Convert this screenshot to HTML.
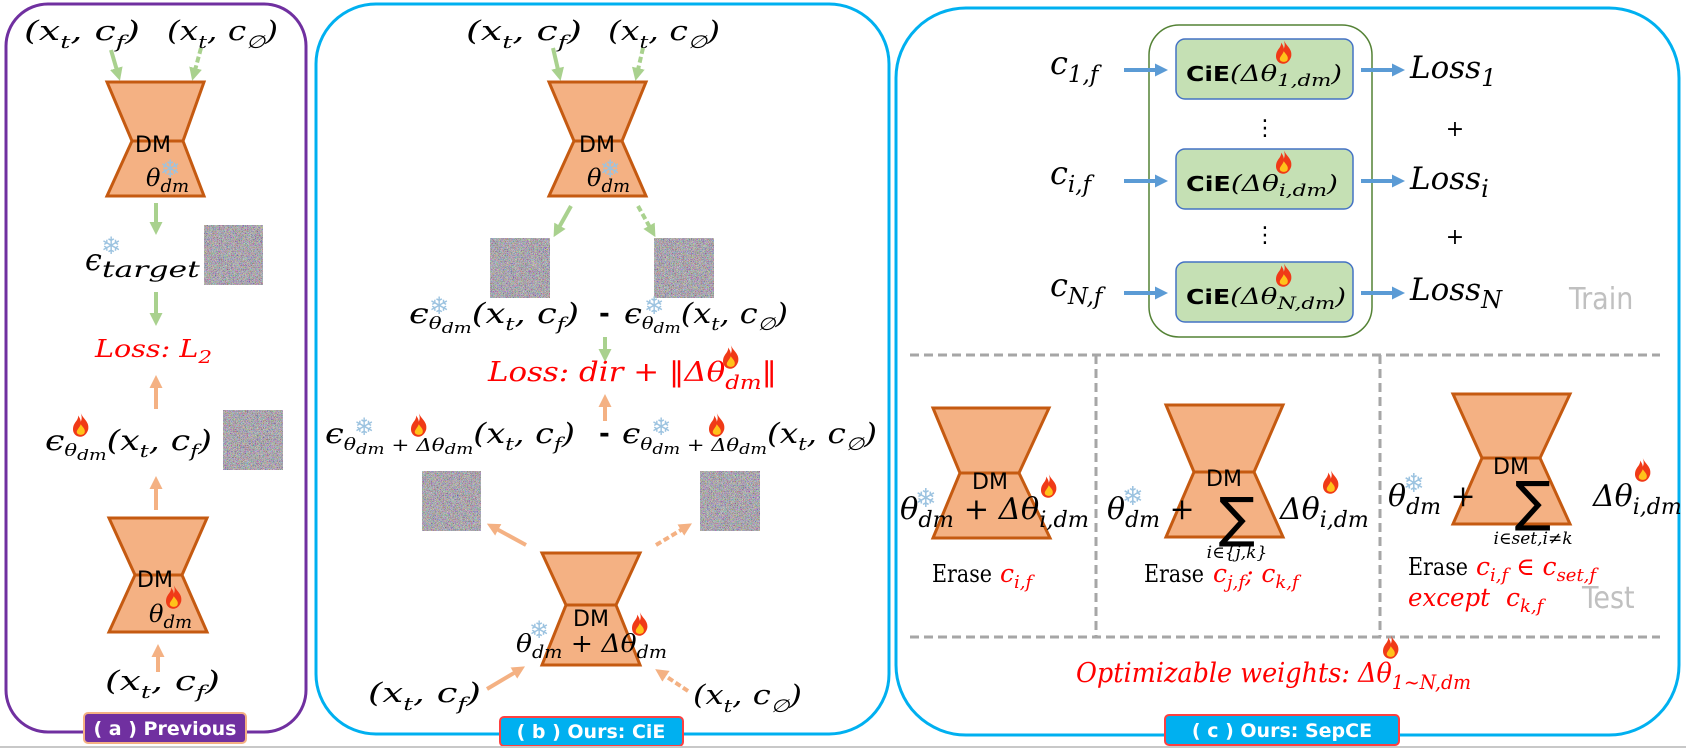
<!DOCTYPE html>
<html><head><meta charset="utf-8"><style>
html,body{margin:0;padding:0;background:#fff;}
svg{display:block;}
.m{font-family:"DejaVu Serif","Liberation Serif",serif;font-style:italic;fill:#000;}
.s{font-size:18px;}
.red{fill:#ff0000;}
.m.red{fill:#ff0000;}
.dm{font-family:"DejaVu Sans","Liberation Sans",sans-serif;font-size:22px;fill:#000;}
.lab{font-family:"DejaVu Sans","Liberation Sans",sans-serif;font-weight:bold;font-size:19px;fill:#fff;}
.ser{font-family:"DejaVu Serif","Liberation Serif",serif;}
.snow{font-family:"DejaVu Sans",sans-serif;fill:#9cc3e0;font-style:normal;}
</style></head><body>
<svg width="1686" height="749" viewBox="0 0 1686 749" xmlns="http://www.w3.org/2000/svg">
<defs>
<filter id="nz" x="0" y="0" width="100%" height="100%">
<feTurbulence type="fractalNoise" baseFrequency="2.5" numOctaves="1" seed="3"/>
<feColorMatrix type="matrix" values="1.7 0 0 0 -0.43  0 1.7 0 0 -0.45  0 0 1.7 0 -0.41  0 0 0 0 1"/>
</filter>
<g id="fire"><g transform="scale(1.25)"><path d="M7 0 C9 5 14 7 13 13 C12 17 9 19 7 19 C3 19 0 16 1 11 C2 7 5 6 5 2 C6 4 7 5 7 7 C8 5 8 3 7 0Z" fill="#f03a17"/><path d="M7 9 C9 12 11 13 10 16 C9 18 5 18 4 16 C3 14 6 12 7 9Z" fill="#ffc21a"/></g></g>
<marker id="ag" markerWidth="13" markerHeight="13" refX="6" refY="6.5" orient="auto" markerUnits="userSpaceOnUse" viewBox="0 0 13 13"><path d="M0 0 L13 6.5 L0 13Z" fill="#a9d18e"/></marker>
<marker id="ao" markerWidth="13" markerHeight="13" refX="6" refY="6.5" orient="auto" markerUnits="userSpaceOnUse" viewBox="0 0 13 13"><path d="M0 0 L13 6.5 L0 13Z" fill="#f4b183"/></marker>
<marker id="ab" markerWidth="13" markerHeight="13" refX="6" refY="6.5" orient="auto" markerUnits="userSpaceOnUse" viewBox="0 0 13 13"><path d="M0 0 L13 6.5 L0 13Z" fill="#5b9bd5"/></marker>
</defs>

<!-- Panel A -->
<g>
<rect x="6" y="4" width="300" height="728" rx="42" fill="none" stroke="#7030a0" stroke-width="3"/>
<text class="m" x="24" y="40" font-size="27" textLength="116" lengthAdjust="spacingAndGlyphs">(x<tspan class="s" dy="8">t</tspan><tspan dy="-8">, c</tspan><tspan class="s" dy="8">f</tspan><tspan dy="-8">)</tspan></text>
<text class="m" x="167" y="40" font-size="27" textLength="111" lengthAdjust="spacingAndGlyphs">(x<tspan class="s" dy="8">t</tspan><tspan dy="-8">, c</tspan><tspan class="s" dy="8">∅</tspan><tspan dy="-8">)</tspan></text>
<line x1="111" y1="50" x2="118" y2="74" stroke="#a9d18e" stroke-width="4" marker-end="url(#ag)"/>
<line x1="201" y1="48" x2="194" y2="74" stroke="#a9d18e" stroke-width="4" stroke-dasharray="6 3" marker-end="url(#ag)"/>
<polygon points="107,82 204,82 183,141 204,196 107,196 132,141" fill="#f4b183" stroke="#c55a11" stroke-width="3"/>
<line x1="132" y1="141" x2="183" y2="141" stroke="#c55a11" stroke-width="3"/>
<text class="dm" x="135" y="152">DM</text>
<text class="m" x="146" y="186" font-size="24">θ<tspan class="s" dy="6">dm</tspan></text>
<text class="snow" x="160" y="177" font-size="24">❄</text>
<line x1="156" y1="203" x2="156" y2="228" stroke="#a9d18e" stroke-width="4" marker-end="url(#ag)"/>
<text class="m" x="85" y="270" font-size="30">ϵ<tspan dy="7" font-size="22" textLength="98" lengthAdjust="spacingAndGlyphs">target</tspan></text>
<text class="snow" x="101" y="254" font-size="24">❄</text>
<rect x="204" y="225" width="59" height="60" fill="#777" filter="url(#nz)"/>
<line x1="156" y1="292" x2="156" y2="319" stroke="#a9d18e" stroke-width="4" marker-end="url(#ag)"/>
<text class="m red" x="95" y="357" font-size="24" textLength="117" lengthAdjust="spacingAndGlyphs">Loss: L<tspan class="s" dy="6">2</tspan></text>
<line x1="156" y1="409" x2="156" y2="382" stroke="#f4b183" stroke-width="4" marker-end="url(#ao)"/>
<text class="m" x="45" y="450" font-size="28" textLength="167" lengthAdjust="spacingAndGlyphs">ϵ<tspan font-size="17" dy="6">θ</tspan><tspan font-size="15" dy="4">dm</tspan><tspan dy="-10">(x</tspan><tspan class="s" dy="7">t</tspan><tspan dy="-7">, c</tspan><tspan class="s" dy="7">f</tspan><tspan dy="-7">)</tspan></text>
<use href="#fire" x="72" y="413"/>
<rect x="223" y="410" width="60" height="60" fill="#777" filter="url(#nz)"/>
<line x1="156" y1="510" x2="156" y2="483" stroke="#f4b183" stroke-width="4" marker-end="url(#ao)"/>
<polygon points="109,518 207,518 182,575 207,632 109,632 135,575" fill="#f4b183" stroke="#c55a11" stroke-width="3"/>
<line x1="135" y1="575" x2="182" y2="575" stroke="#c55a11" stroke-width="3"/>
<text class="dm" x="137" y="587">DM</text>
<text class="m" x="149" y="622" font-size="24">θ<tspan class="s" dy="6">dm</tspan></text>
<use href="#fire" x="165" y="585"/>
<line x1="158" y1="672" x2="158" y2="651" stroke="#f4b183" stroke-width="4" marker-end="url(#ao)"/>
<text class="m" x="105" y="690" font-size="27" textLength="115" lengthAdjust="spacingAndGlyphs">(x<tspan class="s" dy="8">t</tspan><tspan dy="-8">, c</tspan><tspan class="s" dy="8">f</tspan><tspan dy="-8">)</tspan></text>
<rect x="84" y="713" width="162" height="30" rx="4" fill="#7030a0" stroke="#f4b183" stroke-width="2"/>
<text class="lab" x="165" y="735" text-anchor="middle">( a ) Previous</text>
</g>

<!-- Panel B -->
<g>
<rect x="316" y="4" width="573" height="730" rx="60" fill="none" stroke="#00b0f0" stroke-width="3"/>
<text class="m" x="466" y="40" font-size="27" textLength="116" lengthAdjust="spacingAndGlyphs">(x<tspan class="s" dy="8">t</tspan><tspan dy="-8">, c</tspan><tspan class="s" dy="8">f</tspan><tspan dy="-8">)</tspan></text>
<text class="m" x="608" y="40" font-size="27" textLength="112" lengthAdjust="spacingAndGlyphs">(x<tspan class="s" dy="8">t</tspan><tspan dy="-8">, c</tspan><tspan class="s" dy="8">∅</tspan><tspan dy="-8">)</tspan></text>
<line x1="553" y1="48" x2="559" y2="74" stroke="#a9d18e" stroke-width="4" marker-end="url(#ag)"/>
<line x1="643" y1="48" x2="637" y2="74" stroke="#a9d18e" stroke-width="4" stroke-dasharray="6 3" marker-end="url(#ag)"/>
<polygon points="549,82 646,82 622,141 646,196 549,196 574,141" fill="#f4b183" stroke="#c55a11" stroke-width="3"/>
<line x1="574" y1="141" x2="622" y2="141" stroke="#c55a11" stroke-width="3"/>
<text class="dm" x="579" y="152">DM</text>
<text class="m" x="587" y="186" font-size="24">θ<tspan class="s" dy="6">dm</tspan></text>
<text class="snow" x="600" y="177" font-size="24">❄</text>
<line x1="571" y1="206" x2="557" y2="231" stroke="#a9d18e" stroke-width="4" marker-end="url(#ag)"/>
<line x1="638" y1="206" x2="652" y2="231" stroke="#a9d18e" stroke-width="4" stroke-dasharray="6 3" marker-end="url(#ag)"/>
<rect x="490" y="238" width="60" height="60" fill="#777" filter="url(#nz)"/>
<rect x="654" y="238" width="60" height="60" fill="#777" filter="url(#nz)"/>
<text class="m" x="409" y="323" font-size="28" textLength="170" lengthAdjust="spacingAndGlyphs">ϵ<tspan font-size="17" dy="6">θ</tspan><tspan font-size="15" dy="4">dm</tspan><tspan dy="-10">(x</tspan><tspan class="s" dy="7">t</tspan><tspan dy="-7">, c</tspan><tspan class="s" dy="7">f</tspan><tspan dy="-7">)</tspan></text>
<text class="snow" x="429" y="314" font-size="24">❄</text>
<text x="599" y="322" font-family="DejaVu Sans,sans-serif" font-size="26" font-weight="bold">-</text>
<text class="m" x="624" y="323" font-size="28" textLength="164" lengthAdjust="spacingAndGlyphs">ϵ<tspan font-size="17" dy="6">θ</tspan><tspan font-size="15" dy="4">dm</tspan><tspan dy="-10">(x</tspan><tspan class="s" dy="7">t</tspan><tspan dy="-7">, c</tspan><tspan class="s" dy="7">∅</tspan><tspan dy="-7">)</tspan></text>
<text class="snow" x="644" y="314" font-size="24">❄</text>
<line x1="605" y1="337" x2="605" y2="355" stroke="#a9d18e" stroke-width="4" marker-end="url(#ag)"/>
<text class="m red" x="488" y="381" font-size="27" textLength="289" lengthAdjust="spacingAndGlyphs">Loss: dir + ‖Δθ<tspan font-size="20" dy="8">dm</tspan><tspan dy="-8">‖</tspan></text>
<use href="#fire" x="722" y="345"/>
<line x1="605" y1="421" x2="605" y2="401" stroke="#f4b183" stroke-width="4" marker-end="url(#ao)"/>
<text class="m" x="325" y="443" font-size="28" textLength="250" lengthAdjust="spacingAndGlyphs">ϵ<tspan font-size="17" dy="7">θ</tspan><tspan font-size="15" dy="4">dm</tspan><tspan font-size="18" dy="-3"> + Δθ</tspan><tspan font-size="15" dy="3">dm</tspan><tspan dy="-11">(x</tspan><tspan class="s" dy="7">t</tspan><tspan dy="-7">, c</tspan><tspan class="s" dy="7">f</tspan><tspan dy="-7">)</tspan></text>
<text class="snow" x="354" y="435" font-size="24">❄</text>
<use href="#fire" x="410" y="413"/>
<text x="599" y="442" font-family="DejaVu Sans,sans-serif" font-size="26" font-weight="bold">-</text>
<text class="m" x="622" y="443" font-size="28" textLength="255" lengthAdjust="spacingAndGlyphs">ϵ<tspan font-size="17" dy="7">θ</tspan><tspan font-size="15" dy="4">dm</tspan><tspan font-size="18" dy="-3"> + Δθ</tspan><tspan font-size="15" dy="3">dm</tspan><tspan dy="-11">(x</tspan><tspan class="s" dy="7">t</tspan><tspan dy="-7">, c</tspan><tspan class="s" dy="7">∅</tspan><tspan dy="-7">)</tspan></text>
<text class="snow" x="651" y="435" font-size="24">❄</text>
<use href="#fire" x="708" y="413"/>
<rect x="422" y="471" width="59" height="60" fill="#777" filter="url(#nz)"/>
<rect x="700" y="471" width="60" height="60" fill="#777" filter="url(#nz)"/>
<line x1="526" y1="545" x2="493" y2="527" stroke="#f4b183" stroke-width="4" marker-end="url(#ao)"/>
<line x1="656" y1="545" x2="686" y2="527" stroke="#f4b183" stroke-width="4" stroke-dasharray="6 3" marker-end="url(#ao)"/>
<polygon points="542,553 640,553 616,605 640,665 542,665 566,605" fill="#f4b183" stroke="#c55a11" stroke-width="3"/>
<line x1="566" y1="605" x2="616" y2="605" stroke="#c55a11" stroke-width="3"/>
<text class="dm" x="573" y="626">DM</text>
<text class="m" x="516" y="652" font-size="25" textLength="151" lengthAdjust="spacingAndGlyphs">θ<tspan class="s" dy="6">dm</tspan><tspan dy="-6"> + Δθ</tspan><tspan class="s" dy="6">dm</tspan></text>
<text class="snow" x="529" y="638" font-size="24">❄</text>
<use href="#fire" x="631" y="612"/>
<line x1="487" y1="689" x2="519" y2="670" stroke="#f4b183" stroke-width="4" marker-end="url(#ao)"/>
<line x1="688" y1="691" x2="661" y2="673" stroke="#f4b183" stroke-width="4" stroke-dasharray="6 3" marker-end="url(#ao)"/>
<text class="m" x="368" y="702" font-size="27" textLength="113" lengthAdjust="spacingAndGlyphs">(x<tspan class="s" dy="8">t</tspan><tspan dy="-8">, c</tspan><tspan class="s" dy="8">f</tspan><tspan dy="-8">)</tspan></text>
<text class="m" x="693" y="704" font-size="27" textLength="109" lengthAdjust="spacingAndGlyphs">(x<tspan class="s" dy="8">t</tspan><tspan dy="-8">, c</tspan><tspan class="s" dy="8">∅</tspan><tspan dy="-8">)</tspan></text>
<rect x="500" y="717" width="183" height="29" rx="4" fill="#00b0f0" stroke="#ff4040" stroke-width="2"/>
<text class="lab" x="591" y="738" text-anchor="middle">( b ) Ours: CiE</text>
</g>

<!-- Panel C -->
<g>
<rect x="896" y="8" width="783" height="727" rx="70" fill="none" stroke="#00b0f0" stroke-width="3"/>
<rect x="1149" y="25" width="223" height="312" rx="30" fill="none" stroke="#548235" stroke-width="1.5"/>
<g>
<rect x="1176" y="39" width="177" height="60" rx="9" fill="#c5e0b4" stroke="#4472c4" stroke-width="1.5"/>
<text x="1186" y="81" font-size="22" textLength="156" lengthAdjust="spacingAndGlyphs"><tspan font-family="DejaVu Sans,sans-serif" font-weight="bold" font-size="20">CiE</tspan><tspan class="m">(Δθ</tspan><tspan class="m" font-size="17" dy="5">1,dm</tspan><tspan class="m" dy="-5">)</tspan></text>
<use href="#fire" x="1275" y="40"/>
</g>
<g>
<rect x="1176" y="149" width="177" height="60" rx="9" fill="#c5e0b4" stroke="#4472c4" stroke-width="1.5"/>
<text x="1186" y="191" font-size="22" textLength="152" lengthAdjust="spacingAndGlyphs"><tspan font-family="DejaVu Sans,sans-serif" font-weight="bold" font-size="20">CiE</tspan><tspan class="m">(Δθ</tspan><tspan class="m" font-size="17" dy="5">i,dm</tspan><tspan class="m" dy="-5">)</tspan></text>
<use href="#fire" x="1275" y="150"/>
</g>
<g>
<rect x="1176" y="262" width="177" height="60" rx="9" fill="#c5e0b4" stroke="#4472c4" stroke-width="1.5"/>
<text x="1186" y="304" font-size="22" textLength="160" lengthAdjust="spacingAndGlyphs"><tspan font-family="DejaVu Sans,sans-serif" font-weight="bold" font-size="20">CiE</tspan><tspan class="m">(Δθ</tspan><tspan class="m" font-size="17" dy="5">N,dm</tspan><tspan class="m" dy="-5">)</tspan></text>
<use href="#fire" x="1275" y="263"/>
</g>
<text class="m" x="1050" y="74" font-size="32">c<tspan dy="8" font-size="23">1,f</tspan></text>
<text class="m" x="1050" y="184" font-size="32">c<tspan dy="8" font-size="23">i,f</tspan></text>
<text class="m" x="1050" y="296" font-size="32">c<tspan dy="8" font-size="23">N,f</tspan></text>
<line x1="1124" y1="70" x2="1161" y2="70" stroke="#5b9bd5" stroke-width="4" marker-end="url(#ab)"/>
<line x1="1124" y1="181" x2="1161" y2="181" stroke="#5b9bd5" stroke-width="4" marker-end="url(#ab)"/>
<line x1="1124" y1="293" x2="1161" y2="293" stroke="#5b9bd5" stroke-width="4" marker-end="url(#ab)"/>
<line x1="1361" y1="70" x2="1398" y2="70" stroke="#5b9bd5" stroke-width="4" marker-end="url(#ab)"/>
<line x1="1361" y1="181" x2="1398" y2="181" stroke="#5b9bd5" stroke-width="4" marker-end="url(#ab)"/>
<line x1="1361" y1="293" x2="1398" y2="293" stroke="#5b9bd5" stroke-width="4" marker-end="url(#ab)"/>
<text class="m" x="1410" y="78" font-size="31">Loss<tspan dy="8" font-size="24">1</tspan></text>
<text class="m" x="1410" y="189" font-size="31">Loss<tspan dy="8" font-size="24">i</tspan></text>
<text class="m" x="1410" y="300" font-size="31">Loss<tspan dy="8" font-size="24">N</tspan></text>
<text x="1455" y="136" font-family="DejaVu Sans,sans-serif" font-size="22" text-anchor="middle">+</text>
<text x="1455" y="244" font-family="DejaVu Sans,sans-serif" font-size="22" text-anchor="middle">+</text>
<text x="1265" y="135" font-family="DejaVu Sans,sans-serif" font-size="22" text-anchor="middle">⋮</text>
<text x="1265" y="242" font-family="DejaVu Sans,sans-serif" font-size="22" text-anchor="middle">⋮</text>
<text x="1569" y="309" font-family="DejaVu Sans Condensed,DejaVu Sans,sans-serif" font-size="30" fill="#c0c0c0">Train</text>

<g stroke="#a6a6a6" stroke-width="3" stroke-dasharray="9 5" fill="none">
<line x1="910" y1="355" x2="1660" y2="355"/>
<line x1="910" y1="637" x2="1660" y2="637"/>
<line x1="1096" y1="355" x2="1096" y2="637"/>
<line x1="1380" y1="355" x2="1380" y2="637"/>
</g>

<polygon points="933,408 1049,408 1019,473 1050,538 933,538 960,473" fill="#f4b183" stroke="#c55a11" stroke-width="3"/>
<line x1="960" y1="473" x2="1019" y2="473" stroke="#c55a11" stroke-width="3"/>
<text class="dm" x="990" y="489" text-anchor="middle" font-size="25">DM</text>
<text class="m" x="900" y="519" font-size="30" textLength="189" lengthAdjust="spacingAndGlyphs">θ<tspan dy="8" font-size="22">dm</tspan><tspan dy="-8"> + Δθ</tspan><tspan dy="8" font-size="22">i,dm</tspan></text>
<text class="snow" x="915" y="507" font-size="26">❄</text>
<use href="#fire" x="1040" y="474"/>
<text class="ser" x="932" y="582" font-size="24" textLength="60" lengthAdjust="spacingAndGlyphs">Erase</text>
<text class="m red" x="1000" y="582" font-size="25">c<tspan font-size="18" dy="6">i,f</tspan></text>

<polygon points="1166,405 1283,405 1254,472 1283,537 1166,537 1194,472" fill="#f4b183" stroke="#c55a11" stroke-width="3"/>
<line x1="1194" y1="472" x2="1254" y2="472" stroke="#c55a11" stroke-width="3"/>
<text class="dm" x="1224" y="486" text-anchor="middle" font-size="25">DM</text>
<text class="m" x="1107" y="519" font-size="30">θ<tspan dy="8" font-size="22">dm</tspan><tspan dy="-8"> +</tspan></text>
<text class="snow" x="1122" y="505" font-size="26">❄</text>
<text x="1237" y="536" font-family="DejaVu Sans,sans-serif" font-size="54" text-anchor="middle">∑</text>
<text class="m" x="1237" y="558" font-size="17" text-anchor="middle">i∈{j,k}</text>
<text class="m" x="1280" y="519" font-size="30">Δθ<tspan dy="8" font-size="22">i,dm</tspan></text>
<use href="#fire" x="1322" y="470"/>
<text class="ser" x="1144" y="582" font-size="24" textLength="60" lengthAdjust="spacingAndGlyphs">Erase</text>
<text class="m red" x="1213" y="582" font-size="25">c<tspan font-size="18" dy="6">j,f</tspan><tspan dy="-6">; c</tspan><tspan font-size="18" dy="6">k,f</tspan></text>

<polygon points="1453,394 1570,394 1540,458 1570,524 1453,524 1482,458" fill="#f4b183" stroke="#c55a11" stroke-width="3"/>
<line x1="1482" y1="458" x2="1540" y2="458" stroke="#c55a11" stroke-width="3"/>
<text class="dm" x="1511" y="474" text-anchor="middle" font-size="25">DM</text>
<text class="m" x="1388" y="506" font-size="30">θ<tspan dy="8" font-size="22">dm</tspan><tspan dy="-8"> +</tspan></text>
<text class="snow" x="1403" y="492" font-size="26">❄</text>
<text x="1533" y="520" font-family="DejaVu Sans,sans-serif" font-size="54" text-anchor="middle">∑</text>
<text class="m" x="1533" y="544" font-size="17" text-anchor="middle">i∈set,i≠k</text>
<text class="m" x="1593" y="506" font-size="30">Δθ<tspan dy="8" font-size="22">i,dm</tspan></text>
<use href="#fire" x="1634" y="458"/>
<text class="ser" x="1408" y="575" font-size="24" textLength="60" lengthAdjust="spacingAndGlyphs">Erase</text>
<text class="m red" x="1476" y="575" font-size="25">c<tspan font-size="18" dy="6">i,f</tspan><tspan dy="-6"> ∈ c</tspan><tspan font-size="18" dy="6">set,f</tspan></text>
<text class="ser red" x="1408" y="606" font-size="25" font-style="italic" textLength="82" lengthAdjust="spacingAndGlyphs">except</text>
<text class="m red" x="1506" y="606" font-size="25">c<tspan font-size="18" dy="6">k,f</tspan></text>
<text x="1582" y="608" font-family="DejaVu Sans Condensed,DejaVu Sans,sans-serif" font-size="30" fill="#c0c0c0">Test</text>

<text class="ser red" x="1076" y="682" font-size="27" font-style="italic" textLength="395" lengthAdjust="spacingAndGlyphs">Optimizable weights: <tspan class="m red">Δθ</tspan><tspan class="m red" font-size="20" dy="7">1~N,dm</tspan></text>
<use href="#fire" x="1382" y="635"/>
<rect x="1165" y="715" width="234" height="30" rx="4" fill="#00b0f0" stroke="#ff4040" stroke-width="2"/>
<text class="lab" x="1282" y="737" text-anchor="middle">( c ) Ours: SepCE</text>
</g>
<line x1="0" y1="747" x2="1686" y2="747" stroke="#c8c8c8" stroke-width="2"/>
</svg>
</body></html>
